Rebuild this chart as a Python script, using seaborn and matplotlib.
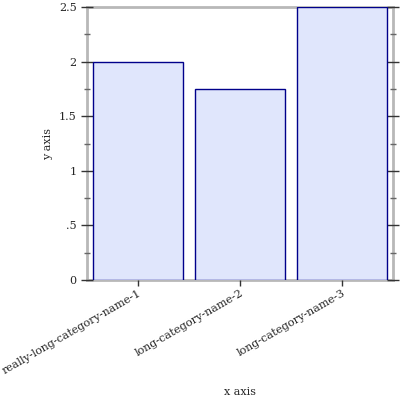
import matplotlib
matplotlib.use("Agg")
import matplotlib.pyplot as plt
import seaborn as sns
import pandas as pd
from matplotlib.ticker import MultipleLocator, FuncFormatter

categories = ["really-long-category-name-1", "long-category-name-2", "long-category-name-3"]
values = [2.0, 1.75, 2.5]


def fmt(v, pos):
    s = f"{v:g}"
    if s.startswith("0."):
        s = s[1:]
    return s


def main():
    sns.set_style("white")
    plt.rcParams["font.family"] = ["DejaVu Serif"]
    df = pd.DataFrame({"cat": categories, "val": values})

    fig = plt.figure(figsize=(4, 4), dpi=100)
    ax = fig.add_axes([0.2175, 0.3, 0.765, 0.6825])
    sns.barplot(data=df, x="cat", y="val", ax=ax, width=0.875,
                color="#e0e6fc", edgecolor="#00008b", linewidth=1.0, saturation=1)

    ax.set_xlim(-0.5, 2.5)
    ax.set_ylim(0, 2.5)
    ax.yaxis.set_major_locator(MultipleLocator(0.5))
    ax.yaxis.set_minor_locator(MultipleLocator(0.25))
    ax.yaxis.set_major_formatter(FuncFormatter(fmt))

    for sp in ax.spines.values():
        sp.set_color("#b8b8b8")
        sp.set_linewidth(2)
        sp.set_zorder(0)

    ax.tick_params(axis="y", which="major", direction="inout", length=8, width=1,
                   color="#333333", left=True, right=True, labelsize=8)
    ax.tick_params(axis="y", which="minor", direction="inout", length=5, width=1,
                   color="#666666", left=True, right=True)
    ax.tick_params(axis="x", which="major", direction="out", length=4, width=1,
                   color="#333333", bottom=True, labelsize=8, pad=2)
    plt.setp(ax.get_xticklabels(), rotation=30, ha="right", rotation_mode="anchor")

    ax.set_xlabel("x axis", fontsize=8, va="center")
    ax.xaxis.set_label_coords(0.5, -0.41)
    ax.set_ylabel("y axis", fontsize=8, va="center")
    ax.yaxis.set_label_coords(-0.127, 0.5)

    fig.savefig("out.png", dpi=100)


if __name__ == "__main__":
    main()
